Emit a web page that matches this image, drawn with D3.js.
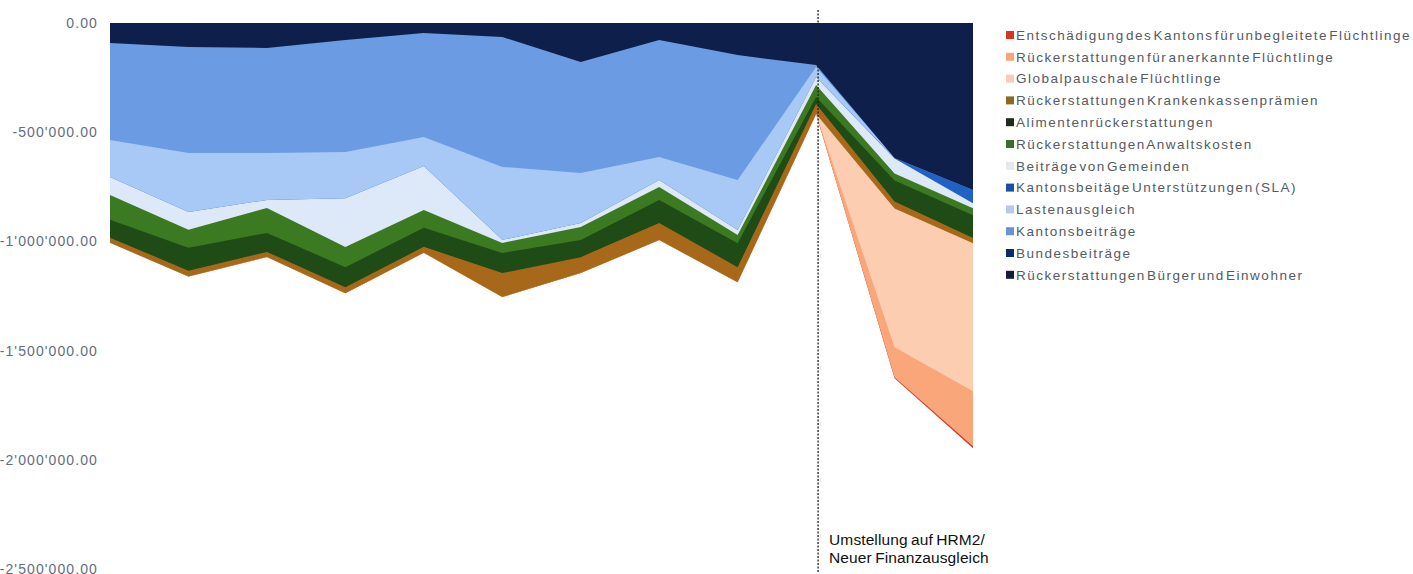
<!DOCTYPE html>
<html>
<head>
<meta charset="utf-8">
<script src="https://cdn.jsdelivr.net/npm/d3@7"></script>
<style>
  html, body { margin: 0; padding: 0; background: #fff; }
  svg { display: block; }
</style>
</head>
<body>
<svg id="chart" width="1413" height="574"></svg>
<script>
// Jahre (Kategorien der x-Achse)
const years = [2005, 2006, 2007, 2008, 2009, 2010, 2011, 2012, 2013, 2014, 2015, 2016];

// Serien in Stapelreihenfolge (von 0 nach unten), Beträge in CHF
const buergerEinwohner   = [-15000, -18000, -20000, -14000, -10000, -12000, -25000, -14000, -22000, -30000, -40000, -45000];
const bundesbeitraege    = [-77000, -92000, -94000, -64000, -36000, -52000, -154000, -64000, -125000, -162000, -578000, -720000];
const kantonsbeitraege   = [-444000, -485000, -481000, -513000, -476000, -595000, -508000, -536000, -572000, -9000, 0, 0];
const lastenausgleich    = [-169000, -270000, -215000, -211000, -133000, -334000, -229000, -105000, -229000, -46000, 0, 0];
const kantonsbeitraegeSLA = [0, 0, 0, 0, 0, 0, 0, 0, 0, 0, -2000, -60000];
const gemeinden          = [-82000, -82000, -37000, -224000, -201000, -14000, -18000, -32000, -23000, -37000, -69000, -23000];
const anwaltskosten      = [-114000, -82000, -114000, -92000, -82000, -46000, -60000, -60000, -37000, -55000, -32000, -32000];
const alimente           = [-82000, -105000, -87000, -92000, -87000, -92000, -78000, -105000, -110000, -32000, -96000, -105000];
const krankenkasse       = [-23000, -27000, -23000, -27000, -27000, -110000, -73000, -78000, -69000, -46000, -32000, -23000];
const globalpauschale    = [0, 0, 0, 0, 0, 0, 0, 0, 0, 0, -636000, -678000];
const anerkannteFl       = [0, 0, 0, 0, 0, 0, 0, 0, 0, 0, -137000, -252000];
const unbegleiteteFl     = [0, 0, 0, 0, 0, 0, 0, 0, 0, 0, -5000, -9000];

// Beschriftungen der y-Achse
const yTicks = [0, -500000, -1000000, -1500000, -2000000, -2500000];

const series = [
  { key: "Rückerstattungen Bürger und Einwohner", values: buergerEinwohner, fill: "#0f1f4c", swatch: "#161d3c" },
  { key: "Bundesbeiträge", values: bundesbeitraege, fill: "#0f1f4c", swatch: "#0c2a6e" },
  { key: "Kantonsbeiträge", values: kantonsbeitraege, fill: "#6b9be2", swatch: "#6a90d8" },
  { key: "Lastenausgleich", values: lastenausgleich, fill: "#a8c8f5", swatch: "#b9c9ec" },
  { key: "Kantonsbeitäge Unterstützungen (SLA)", values: kantonsbeitraegeSLA, fill: "#1f62c6", swatch: "#1a4fa8" },
  { key: "Beiträge von Gemeinden", values: gemeinden, fill: "#dde8f9", swatch: "#e6e8f0" },
  { key: "Rückerstattungen Anwaltskosten", values: anwaltskosten, fill: "#3c7a22", swatch: "#3d6b2c" },
  { key: "Alimentenrückerstattungen", values: alimente, fill: "#1f4b17", swatch: "#1f2b1c" },
  { key: "Rückerstattungen Krankenkassenprämien", values: krankenkasse, fill: "#a8681a", swatch: "#8a6a22" },
  { key: "Globalpauschale Flüchtlinge", values: globalpauschale, fill: "#fdcdb1", swatch: "#fbcabb" },
  { key: "Rückerstattungen für anerkannte Flüchtlinge", values: anerkannteFl, fill: "#f9a67b", swatch: "#f7a37c" },
  { key: "Entschädigung des Kantons für unbegleitete Flüchtlinge", values: unbegleiteteFl, fill: "#d63b24", swatch: "#d8351f" }
];

const rows = years.map((yr, i) => {
  const r = { year: yr };
  series.forEach(s => { r[s.key] = s.values[i]; });
  return r;
});

const svg = d3.select("#chart");

const x = d3.scalePoint().domain(years).range([110, 973]);
const y = d3.scaleLinear().domain([0, -2500000]).range([23, 569]);

// alle Beträge negativ: einfache Aufsummierung stapelt nach unten
const stacked = d3.stack()
  .keys(series.map(s => s.key))
  .offset(d3.stackOffsetNone)(rows);

// Jede Schicht reicht von 0 bis zu ihrer Unterkante; gezeichnet wird von
// der untersten Schicht aus, die oberen decken die unteren ab (keine Fugen).
const area = d3.area()
  .x(d => x(d.data.year))
  .y0(y(0))
  .y1(d => y(d[1]));

svg.append("g")
  .selectAll("path")
  .data(stacked.map((s, i) => ({ layer: s, fill: series[i].fill })).reverse())
  .join("path")
  .attr("d", d => area(d.layer))
  .attr("fill", d => d.fill);

// y-Achse (nur Beschriftungen)
const locale = d3.formatLocale({ decimal: ".", thousands: "'", grouping: [3], currency: ["", ""], minus: "-" });
const fmt = locale.format(",.2f");

const yAxis = d3.axisLeft(y).tickValues(yTicks).tickFormat(fmt).tickSize(0).tickPadding(0);
const gy = svg.append("g").attr("transform", "translate(98,0)").call(yAxis);
gy.select(".domain").remove();
gy.selectAll("text")
  .attr("fill", "#646d80")
  .style("font-family", "'Liberation Sans', Arial, sans-serif")
  .style("font-size", "14px")
  .style("letter-spacing", "1.1px");

// Markierung Systemwechsel
const xSwitch = x(2014) + 2;
svg.append("line")
  .attr("x1", xSwitch).attr("x2", xSwitch)
  .attr("y1", 10).attr("y2", 572)
  .attr("stroke", "#222")
  .attr("stroke-width", 1.3)
  .attr("stroke-dasharray", "2,1.5");

const note = svg.append("text")
  .attr("x", xSwitch + 11)
  .attr("y", 545)
  .attr("fill", "#111")
  .style("font-family", "'Liberation Sans', Arial, sans-serif")
  .style("font-size", "15.5px")
  .style("letter-spacing", "0.1px")
  .style("word-spacing", "-1px");
note.append("tspan").attr("x", xSwitch + 11).attr("dy", 0).text("Umstellung auf HRM2/");
note.append("tspan").attr("x", xSwitch + 11).attr("dy", 18).text("Neuer Finanzausgleich");

// Legende (untere Stapelschicht zuerst)
const legendItems = series.slice().reverse();
const lg = svg.append("g").attr("transform", "translate(1006,35)");
const item = lg.selectAll("g")
  .data(legendItems)
  .join("g")
  .attr("transform", (d, i) => `translate(0,${i * 21.8})`);
item.append("rect")
  .attr("x", 0).attr("y", -4)
  .attr("width", 8).attr("height", 8)
  .attr("fill", d => d.swatch);
item.append("text")
  .attr("x", 10)
  .attr("dy", "0.36em")
  .attr("fill", "#555a63")
  .style("font-family", "'Liberation Sans', Arial, sans-serif")
  .style("font-size", "13.5px")
  .style("letter-spacing", "1.5px")
  .style("word-spacing", "-4px")
  .text(d => d.key);
</script>
</body>
</html>
